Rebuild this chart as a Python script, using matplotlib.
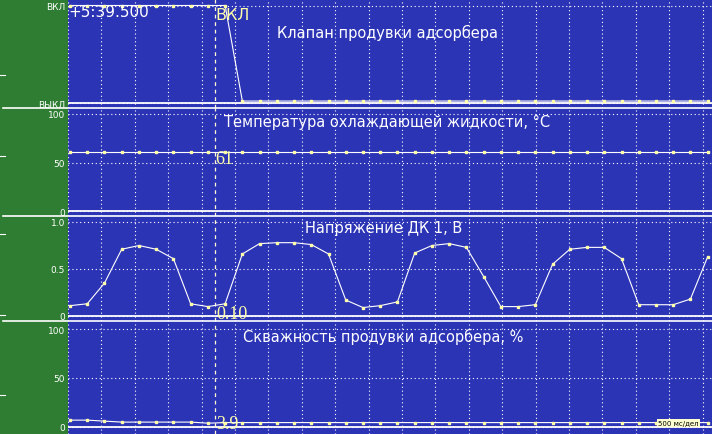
import matplotlib
matplotlib.use("Agg")
import matplotlib.pyplot as plt
from matplotlib.lines import Line2D

W, H = 712, 435
GREEN = "#2e7d32"
BLUE = "#2c34b6"
MARK = "#ffffa8"
CURSOR_T = 2.2          # s
SEC_PER_DIV = 0.5       # 500 ms/div
PX_PER_DIV = 33.4
PLOT_LEFT = 68

# sample times, s
t = [0.03, 0.288, 0.546, 0.804, 1.062, 1.32, 1.578, 1.836, 2.094, 2.352,
     2.61, 2.868, 3.126, 3.384, 3.642, 3.9, 4.158, 4.416, 4.674, 4.932,
     5.19, 5.448, 5.706, 5.964, 6.222, 6.48, 6.738, 6.996, 7.254, 7.512,
     7.77, 8.028, 8.286, 8.544, 8.802, 9.06, 9.318, 9.576]

# purge valve state (1 = ВКЛ, 0 = ВЫКЛ)
valve = [1, 1, 1, 1, 1, 1, 1, 1, 1, 1] + [0.02] * 28

# coolant temperature, °C
coolant = [61] * 38

# O2 sensor 1 voltage, V
o2 = [0.11, 0.13, 0.35, 0.71, 0.75, 0.71, 0.61, 0.13, 0.10, 0.13,
      0.66, 0.77, 0.78, 0.78, 0.76, 0.66, 0.17, 0.09, 0.11, 0.15,
      0.67, 0.75, 0.77, 0.73, 0.42, 0.10, 0.10, 0.12, 0.55, 0.71,
      0.73, 0.73, 0.61, 0.12, 0.12, 0.12, 0.18, 0.63]

# purge duty cycle, %
duty = [7.0, 7.0, 6.0, 5.0, 5.0, 5.0, 5.0, 5.0, 3.9, 4.5,
        4.5, 4.5, 4.5, 4.5, 4.5, 4.5, 4.5, 4.5, 4.5, 4.5,
        4.5, 4.5, 4.5, 4.5, 4.5, 4.5, 4.5, 4.5, 4.5, 4.5,
        4.5, 4.5, 4.5, 4.5, 4.5, 4.5, 4.5, 4.5]

panels = [
    # title, series, ticks, tick labels, cursor label
    ("Клапан продувки адсорбера", valve, [0, 1], ["ВЫКЛ", "ВКЛ"], "ВКЛ"),
    ("Температура охлаждающей жидкости, °C", coolant, [0, 50, 100], ["0", "50", "100"], "61"),
    ("Напряжение ДК 1, В", o2, [0, 0.5, 1.0], ["0", "0.5", "1.0"], "0.10"),
    ("Скважность продувки адсорбера, %", duty, [0, 50, 100], ["0", "50", "100"], "3.9"),
]

# pixel layout: (panel top, panel bottom, top value px, top value, zero px)
layout = [
    (0, 109, 6.5, 1.0, 104),
    (109, 217, 115, 100, 212),
    (217, 322, 223, 1.0, 317),
    (322, 435, 330, 100, 428),
]
title_pos = [(277, 33), (224, 122), (305, 229), (243, 337)]
cursor_lab_pos = [(215, 15), (215, 160), (216, 315), (216, 425)]


def fx(x):
    return x / W


def fy(y):
    return 1 - y / H


fig = plt.figure(figsize=(W / 100, H / 100), dpi=100, facecolor=GREEN)
xmax = (W - PLOT_LEFT) / PX_PER_DIV * SEC_PER_DIV

for (title, vals, ticks, labels, cur), (top, bot, vtop_px, vtop, zero_px), tp, cp in zip(
        panels, layout, title_pos, cursor_lab_pos):
    ax = fig.add_axes([fx(PLOT_LEFT), fy(bot), fx(W - PLOT_LEFT), (bot - top) / H])
    ax.set_facecolor(BLUE)
    per_px = vtop / (zero_px - vtop_px)
    ax.set_ylim(-(bot - zero_px) * per_px, vtop + (vtop_px - top) * per_px)
    ax.set_xlim(0, xmax)
    ax.set_xticks([SEC_PER_DIV * k for k in range(20)])
    ax.set_yticks(ticks)
    ax.set_yticklabels(labels)
    ax.tick_params(axis="y", length=0, pad=2, labelsize=6.5, labelcolor="white")
    ax.tick_params(axis="x", length=0, labelbottom=False)
    for s in ax.spines.values():
        s.set_visible(False)
    ax.grid(True, color="white", linestyle=(0, (1, 2.5)), linewidth=0.8)
    ax.axhline(0, color="white", linewidth=1.3, zorder=3)
    ax.axvline(CURSOR_T, color="#fffad0", linestyle=(0, (3, 3)), linewidth=0.9, zorder=3)
    ax.plot(t, vals, color="white", linewidth=0.8, zorder=4,
            marker="s", markersize=1.7, markerfacecolor=MARK, markeredgecolor=MARK)
    fig.text(fx(tp[0]), fy(tp[1]), title, color="white", fontsize=10.5,
             va="center", ha="left")
    fam = "DejaVu Sans" if cur == "ВКЛ" else "Liberation Serif"
    fig.text(fx(cp[0]), fy(cp[1]), cur, color=MARK, fontsize=11.5 if cur == "ВКЛ" else 13,
             family=fam, va="center", ha="left", zorder=5)

# timestamp
fig.text(fx(68), fy(12.5), "+5:39.500", color="white", fontsize=11,
         va="center", ha="left")

# panel separators
for y in [109, 217, 322]:
    fig.add_artist(Line2D([fx(3), 1], [fy(y), fy(y)], color="white", linewidth=1.2))

# small marks on the left edge
for y in [76, 157, 235, 316, 396]:
    fig.add_artist(Line2D([0, fx(5)], [fy(y), fy(y)], color="white", linewidth=0.8))

# time scale box
fig.text(fx(658), fy(424), "500 мс/дел", color="black", fontsize=5,
         va="center", ha="left",
         bbox=dict(boxstyle="square,pad=0.15", facecolor="#ffffd0", edgecolor="none"))

fig.savefig("out.png", dpi=100, facecolor=GREEN)
